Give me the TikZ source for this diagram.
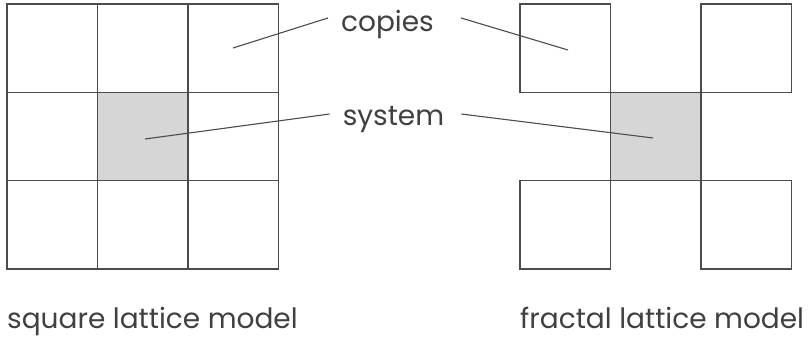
\documentclass[tikz,border=0pt]{standalone}
\usepackage{fontspec}
\setmainfont{Poppins}
\usetikzlibrary{positioning}
\tikzset{cell/.style={draw=black!70, line width=1.2pt, minimum width=90.5pt, minimum height=88.3pt, inner sep=0pt, outer sep=0pt}}
\tikzset{shaded/.style={fill=black!16}}
\tikzset{caption/.style={font=\fontsize{28}{32}\selectfont, text=black!75, inner sep=0pt}}
\tikzset{pointer/.style={draw=black!70, line width=1.1pt}}

\begin{document}
\begin{tikzpicture}[x=1pt,y=-1pt]
\useasboundingbox (0,0) rectangle (812,337);

% square lattice
\node[cell] (sq11) at (52.25,48.15) {};
\node[cell, right=0pt of sq11] (sq12) {};
\node[cell, right=0pt of sq12] (sq13) {};
\node[cell, below=0pt of sq11] (sq21) {};
\node[cell, shaded, right=0pt of sq21] (sq22) {};
\node[cell, right=0pt of sq22] (sq23) {};
\node[cell, below=0pt of sq21] (sq31) {};
\node[cell, right=0pt of sq31] (sq32) {};
\node[cell, right=0pt of sq32] (sq33) {};

% fractal lattice
\node[cell] (fr11) at (565.25,48.15) {};
\node[cell, shaded, below right=0pt of fr11] (fr22) {};
\node[cell, above right=0pt of fr22] (fr13) {};
\node[cell, below left=0pt of fr22] (fr31) {};
\node[cell, below right=0pt of fr22] (fr33) {};

% labels
\node[caption, anchor=base] (copies) at (387.5,32) {copies};
\node[caption, anchor=base] (system) at (393.5,125) {system};
\node[caption, anchor=base west] (sqname) at (7,328) {square lattice model};
\node[caption, anchor=base west] (frname) at (520,328) {fractal lattice model};

\coordinate (sqcopy) at (233,48);
\coordinate (frcopy) at (568,50);
\coordinate (sqsys) at (145,139);
\coordinate (frsys) at (653,138);

\draw[pointer] ([xshift=-13pt,yshift=7pt]copies.west) -- (sqcopy);
\draw[pointer] ([xshift=27pt,yshift=7pt]copies.east) -- (frcopy);
\draw[pointer] ([xshift=-13pt,yshift=5pt]system.west) -- (sqsys);
\draw[pointer] ([xshift=17pt,yshift=5pt]system.east) -- (frsys);

\end{tikzpicture}
\end{document}
